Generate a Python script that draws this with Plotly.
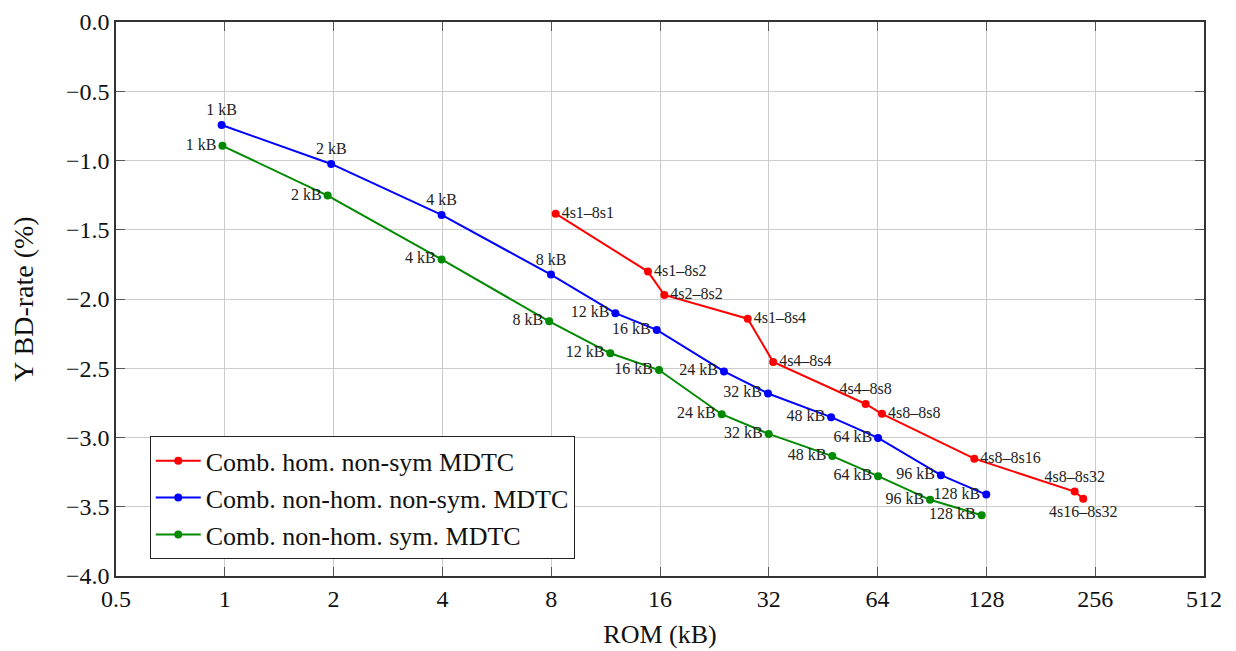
import plotly.graph_objects as go

# ROM size (kB) and Y BD-rate (%)
rom_hom = [8.23, 14.82, 16.45, 27.97, 32.9, 59.3, 65.8, 118.5, 224.6, 237.2]
bd_hom = [-1.384, -1.802, -1.971, -2.142, -2.454, -2.758, -2.829, -3.153, -3.390, -3.443]
lbl_hom = ["4s1–8s1", "4s1–8s2", "4s2–8s2", "4s1–8s4", "4s4–8s4",
           "4s4–8s8", "4s8–8s8", "4s8–8s16", "4s8–8s32", "4s16–8s32"]

rom_nonhom = [0.98, 1.97, 3.98, 7.99, 12.04, 15.67, 24.05, 31.84, 47.6, 64.2, 95.8, 127.9]
bd_nonhom = [-0.744, -1.025, -1.393, -1.824, -2.102, -2.223, -2.523, -2.682, -2.853, -3.003, -3.272, -3.412]
lbl_nonhom = ["1 kB", "2 kB", "4 kB", "8 kB", "12 kB", "16 kB", "24 kB", "32 kB",
              "48 kB", "64 kB", "96 kB", "128 kB"]

rom_sym = [0.985, 1.926, 3.98, 7.90, 11.66, 15.9, 23.7, 31.98, 47.96, 64.2, 89.4, 124.2]
bd_sym = [-0.894, -1.253, -1.714, -2.161, -2.392, -2.513, -2.832, -2.974, -3.134, -3.279, -3.450, -3.561]
lbl_sym = ["1 kB", "2 kB", "4 kB", "8 kB", "12 kB", "16 kB", "24 kB", "32 kB",
           "48 kB", "64 kB", "96 kB", "128 kB"]

x_ticks = [0.5, 1, 2, 4, 8, 16, 32, 64, 128, 256, 512]

FONT = "'Liberation Serif', 'DejaVu Serif', serif"

pos_hom = ["middle right"] * 5 + ["top center", "middle right", "middle right", "top center", "bottom center"]
pos_nonhom = ["top center"] * 4 + ["middle left"] * 8
pos_sym = ["middle left"] * 12

fig = go.Figure()
series = [
    ("Comb. hom. non-sym MDTC", rom_hom, bd_hom, lbl_hom, pos_hom, "#ff0000"),
    ("Comb. non-hom. non-sym. MDTC", rom_nonhom, bd_nonhom, lbl_nonhom, pos_nonhom, "#0000ff"),
    ("Comb. non-hom. sym. MDTC", rom_sym, bd_sym, lbl_sym, pos_sym, "#008a00"),
]
for name, xs, ys, txt, pos, col in series:
    fig.add_trace(go.Scatter(
        x=xs, y=ys, name=name, mode="lines+markers+text",
        text=txt, textposition=pos,
        textfont=dict(family=FONT, size=16, color="#222222"),
        line=dict(color=col, width=2), marker=dict(color=col, size=8),
    ))

axis_common = dict(
    showline=True, linecolor="#333333", linewidth=1.5, mirror="ticks",
    ticks="inside", ticklen=9, tickcolor="#555555",
    showgrid=True, gridcolor="#cccccc", gridwidth=1, zeroline=False,
    tickfont=dict(family=FONT, size=24, color="#111111"),
    automargin=False, ticklabeloverflow="allow",
)

fig.update_xaxes(
    type="log", range=[-0.30103, 2.70927], tickvals=x_ticks,
    ticktext=[str(v) for v in x_ticks],
    title=dict(text="ROM (kB)", font=dict(family=FONT, size=26, color="#111111"), standoff=14),
    **axis_common,
)
fig.update_yaxes(
    range=[-4, 0], dtick=0.5, tick0=0, tickformat=".1f",
    title=dict(text="Y BD-rate (%)", font=dict(family=FONT, size=28, color="#111111"), standoff=28),
    **axis_common,
)

# page body adds ~8px offset, so margins are shifted to compensate
fig.update_layout(
    width=1236, height=651,
    margin=dict(l=108, r=40, t=14, b=83),
    plot_bgcolor="white", paper_bgcolor="white",
    font=dict(family=FONT),
    legend=dict(
        x=0.031, y=0.03, xanchor="left", yanchor="bottom",
        bgcolor="white", bordercolor="#222222", borderwidth=1,
        font=dict(family=FONT, size=26, color="#111111"),
        itemwidth=45, tracegroupgap=0,
    ),
)

fig.write_html("out.html")
